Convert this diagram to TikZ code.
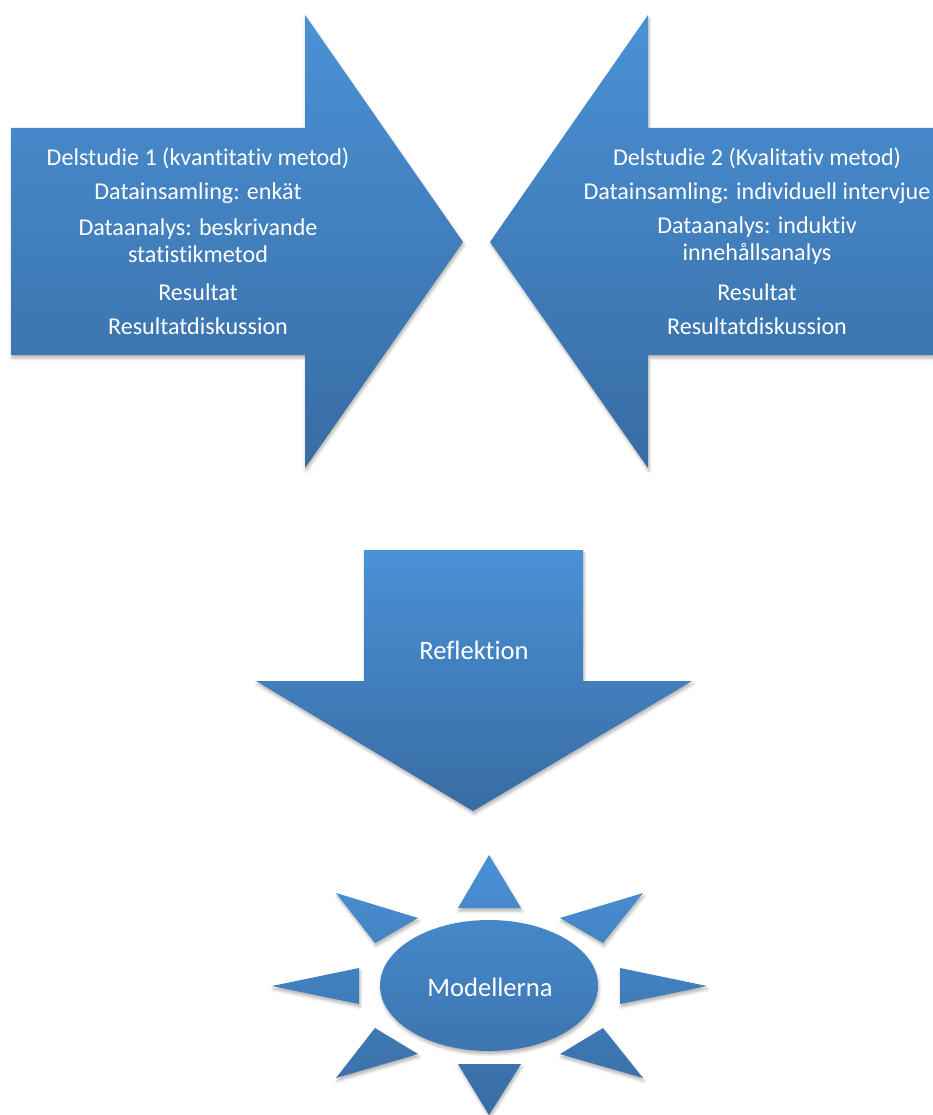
\documentclass[tikz,border=0pt]{standalone}
\usepackage{fontspec}
\setmainfont{Carlito}[Ligatures={NoCommon,NoContextual}]
\usetikzlibrary{shadows.blur}
\definecolor{topc}{RGB}{74,145,214}
\definecolor{botc}{RGB}{56,108,163}
\tikzset{
  blueshape/.style={top color=topc, bottom color=botc, draw=none,
    blur shadow={shadow xshift=1pt, shadow yshift=-3pt, shadow blur radius=3pt, shadow opacity=30}},
  lbl/.style={text=white, font=\fontsize{24.1}{27}\selectfont, align=center, inner sep=0pt, anchor=center},
  biglbl/.style={lbl, font=\fontsize{26.6}{30}\selectfont}
}
\begin{document}
\begin{tikzpicture}[x=1pt,y=-1pt]
\useasboundingbox (0,0) rectangle (933,1115);
% left arrow
\path[blueshape] (11,128) -- (305,128) -- (305,15) -- (463,242) -- (305,468) -- (305,355) -- (11,355) -- cycle;
% right arrow
\path[blueshape] (933,128) -- (648,128) -- (648,15) -- (490,242) -- (648,468) -- (648,355) -- (933,355) -- cycle;
% down arrow
\path[blueshape] (364,550) -- (583,550) -- (583,681) -- (692,681) -- (473,811) -- (256,681) -- (364,681) -- cycle;
% sun
\path[blueshape]
  (489,985.5) ellipse[x radius=109, y radius=65.5]
  (489,855) -- (521,908) -- (458,908) -- cycle
  (458,1064) -- (521,1064) -- (489,1115) -- cycle
  (272,986) -- (359,968) -- (359,1004) -- cycle
  (707,986) -- (620,968) -- (620,1004) -- cycle
  (336,893) -- (418,918) -- (375,943) -- cycle
  (643,893) -- (560,918) -- (603,943) -- cycle
  (375,1028) -- (418,1054) -- (336,1078) -- cycle
  (603,1028) -- (560,1054) -- (643,1078) -- cycle;
% left texts
\node[lbl] (l1) at (198,158) {Delstudie 1 (kvantitativ metod)};
\node[lbl] (l2) at (198,193) {Datainsamling: enkät};
\node[lbl] (l3) at (198,240.5) {Dataanalys: beskrivande\\statistikmetod};
\node[lbl] (l4) at (198,292) {Resultat};
\node[lbl] (l5) at (198,326) {Resultatdiskussion};
% right texts
\node[lbl] (r1) at (757,158) {Delstudie 2 (Kvalitativ metod)};
\node[lbl] (r2) at (757,193) {Datainsamling: individuell intervjue};
\node[lbl] (r3) at (757,240.5) {Dataanalys: induktiv\\innehållsanalys};
\node[lbl] (r4) at (757,292) {Resultat};
\node[lbl] (r5) at (757,326) {Resultatdiskussion};
% others
\node[biglbl] (refl) at (474,650) {Reflektion};
\node[biglbl] (mod) at (490,987) {Modellerna};
\end{tikzpicture}
\end{document}
